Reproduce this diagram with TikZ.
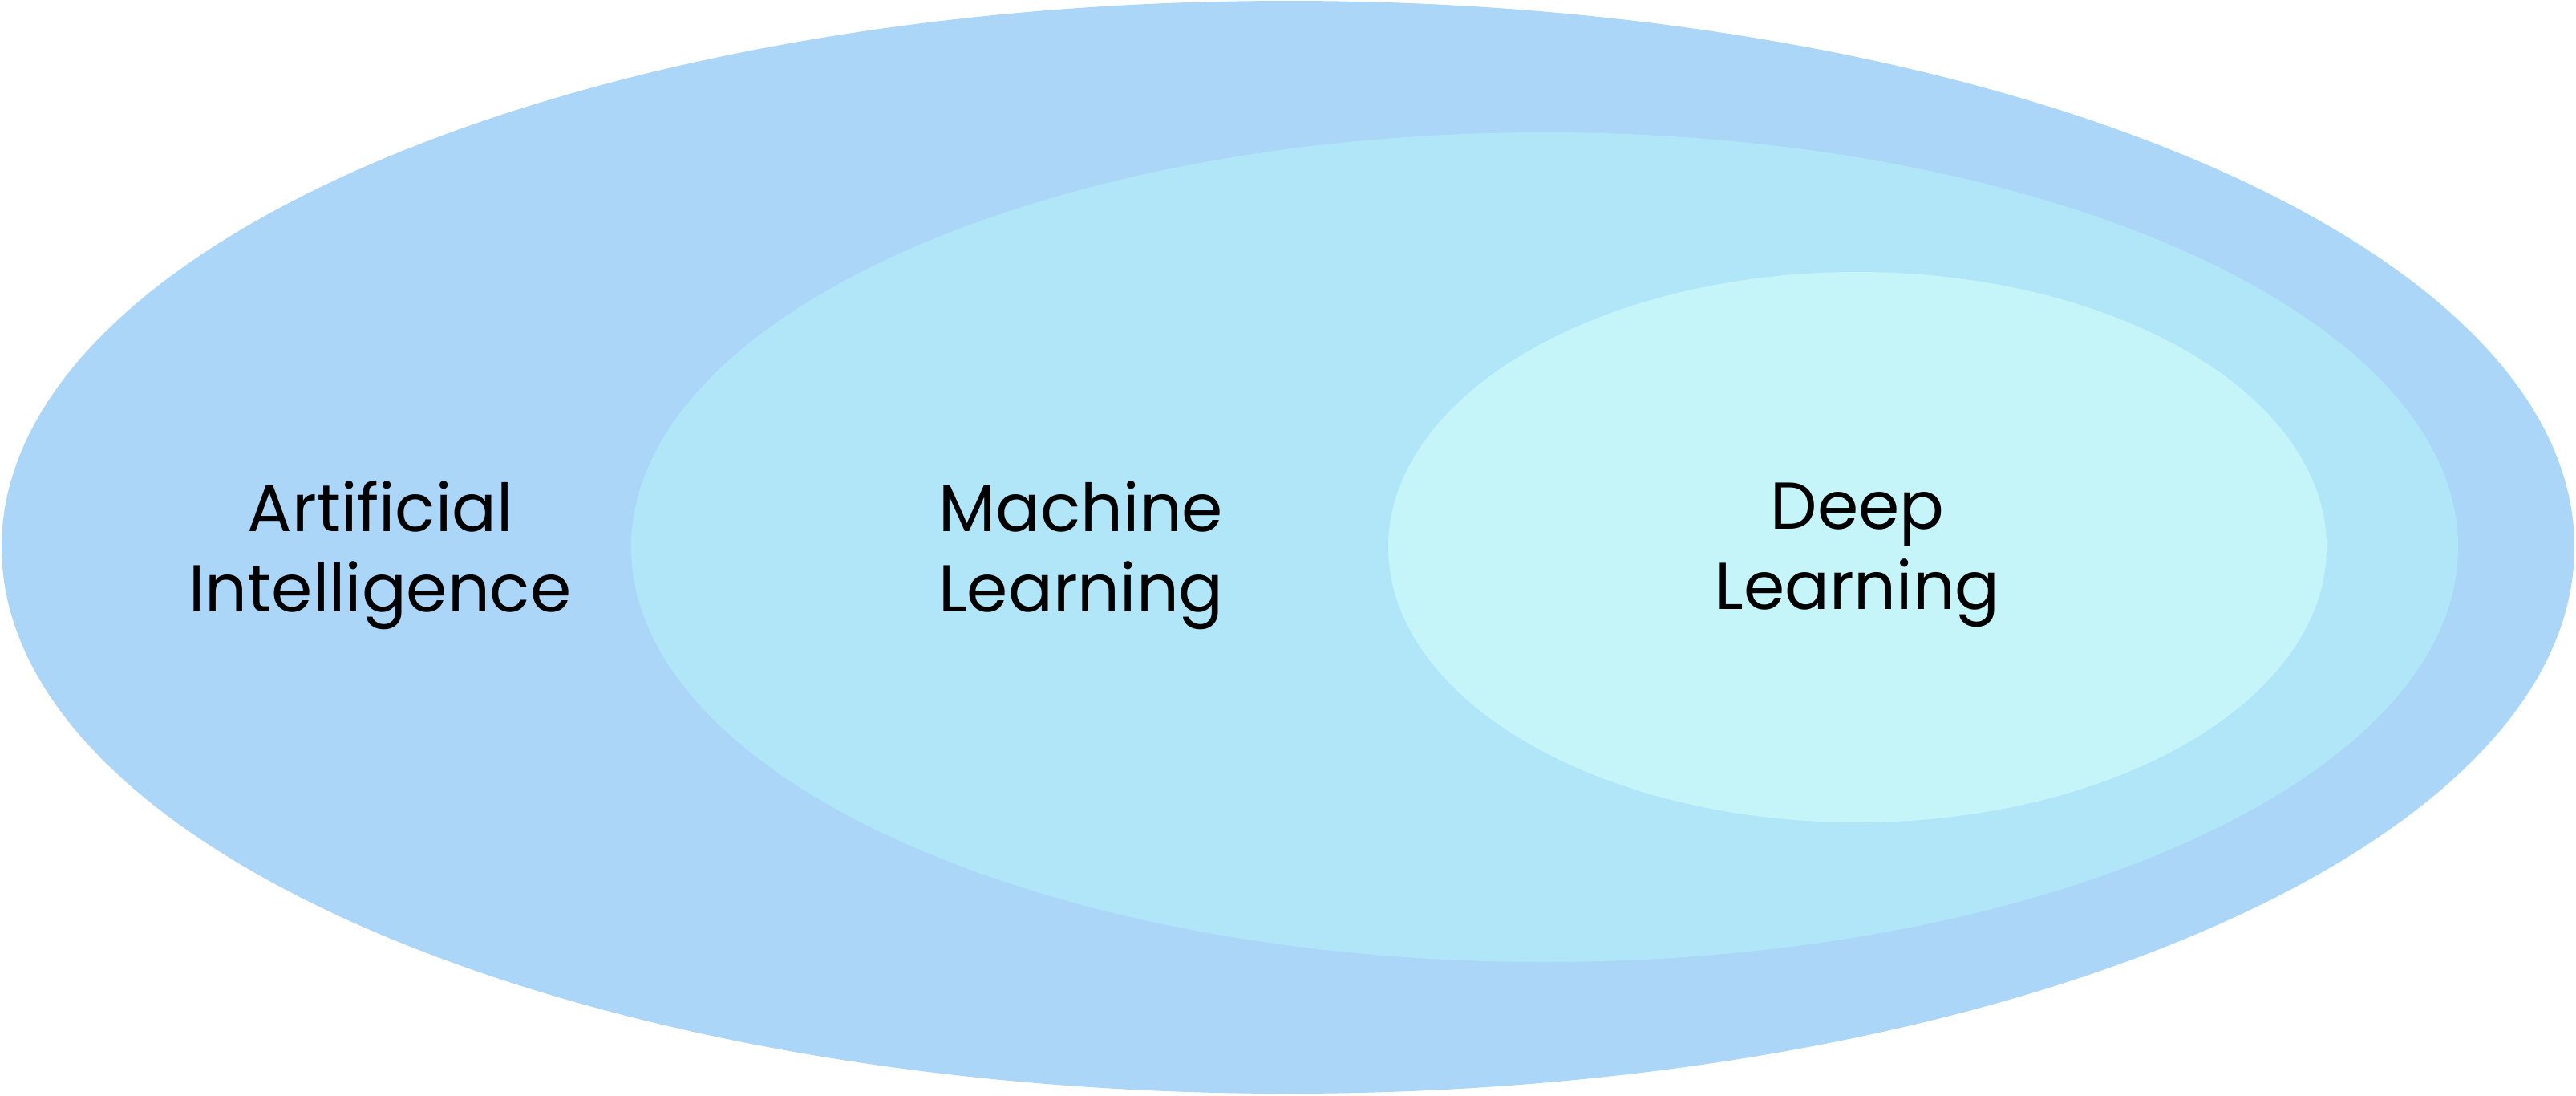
\documentclass[tikz,border=0pt]{standalone}
\usepackage{fontspec}
\setmainfont{Poppins}
\usepackage{tikz}
\usetikzlibrary{positioning,shapes.geometric}
\definecolor{skyai}{RGB}{171,214,248}
\definecolor{skyml}{RGB}{176,230,248}
\definecolor{skydl}{RGB}{197,245,249}

\begin{document}
\begin{tikzpicture}[
  field/.style={ellipse, draw=none, inner sep=0pt},
  caption/.style={align=center, inner sep=0pt,
                  font=\fontsize{23.5}{28.4}\selectfont},
]
\useasboundingbox (0,0) rectangle (32.12,-13.65);

\node[field, fill=skyai, minimum width=32.08cm, minimum height=13.62cm] (ai) at (16.06,-6.82) {};
\node[field, fill=skyml, minimum width=22.78cm, minimum height=10.34cm] (ml) at (19.26,-6.82) {};
\node[field, fill=skydl, minimum width=11.70cm, minimum height=6.86cm] (dl) at (23.16,-6.82) {};

\node[caption] (ailabel) at (4.74,-6.92) {Artificial\\Intelligence};
\node[caption] (mllabel) at (13.48,-6.92) {Machine\\Learning};
\node[caption] (dllabel) at (23.16,-6.92) {Deep\\Learning};

\end{tikzpicture}
\end{document}
